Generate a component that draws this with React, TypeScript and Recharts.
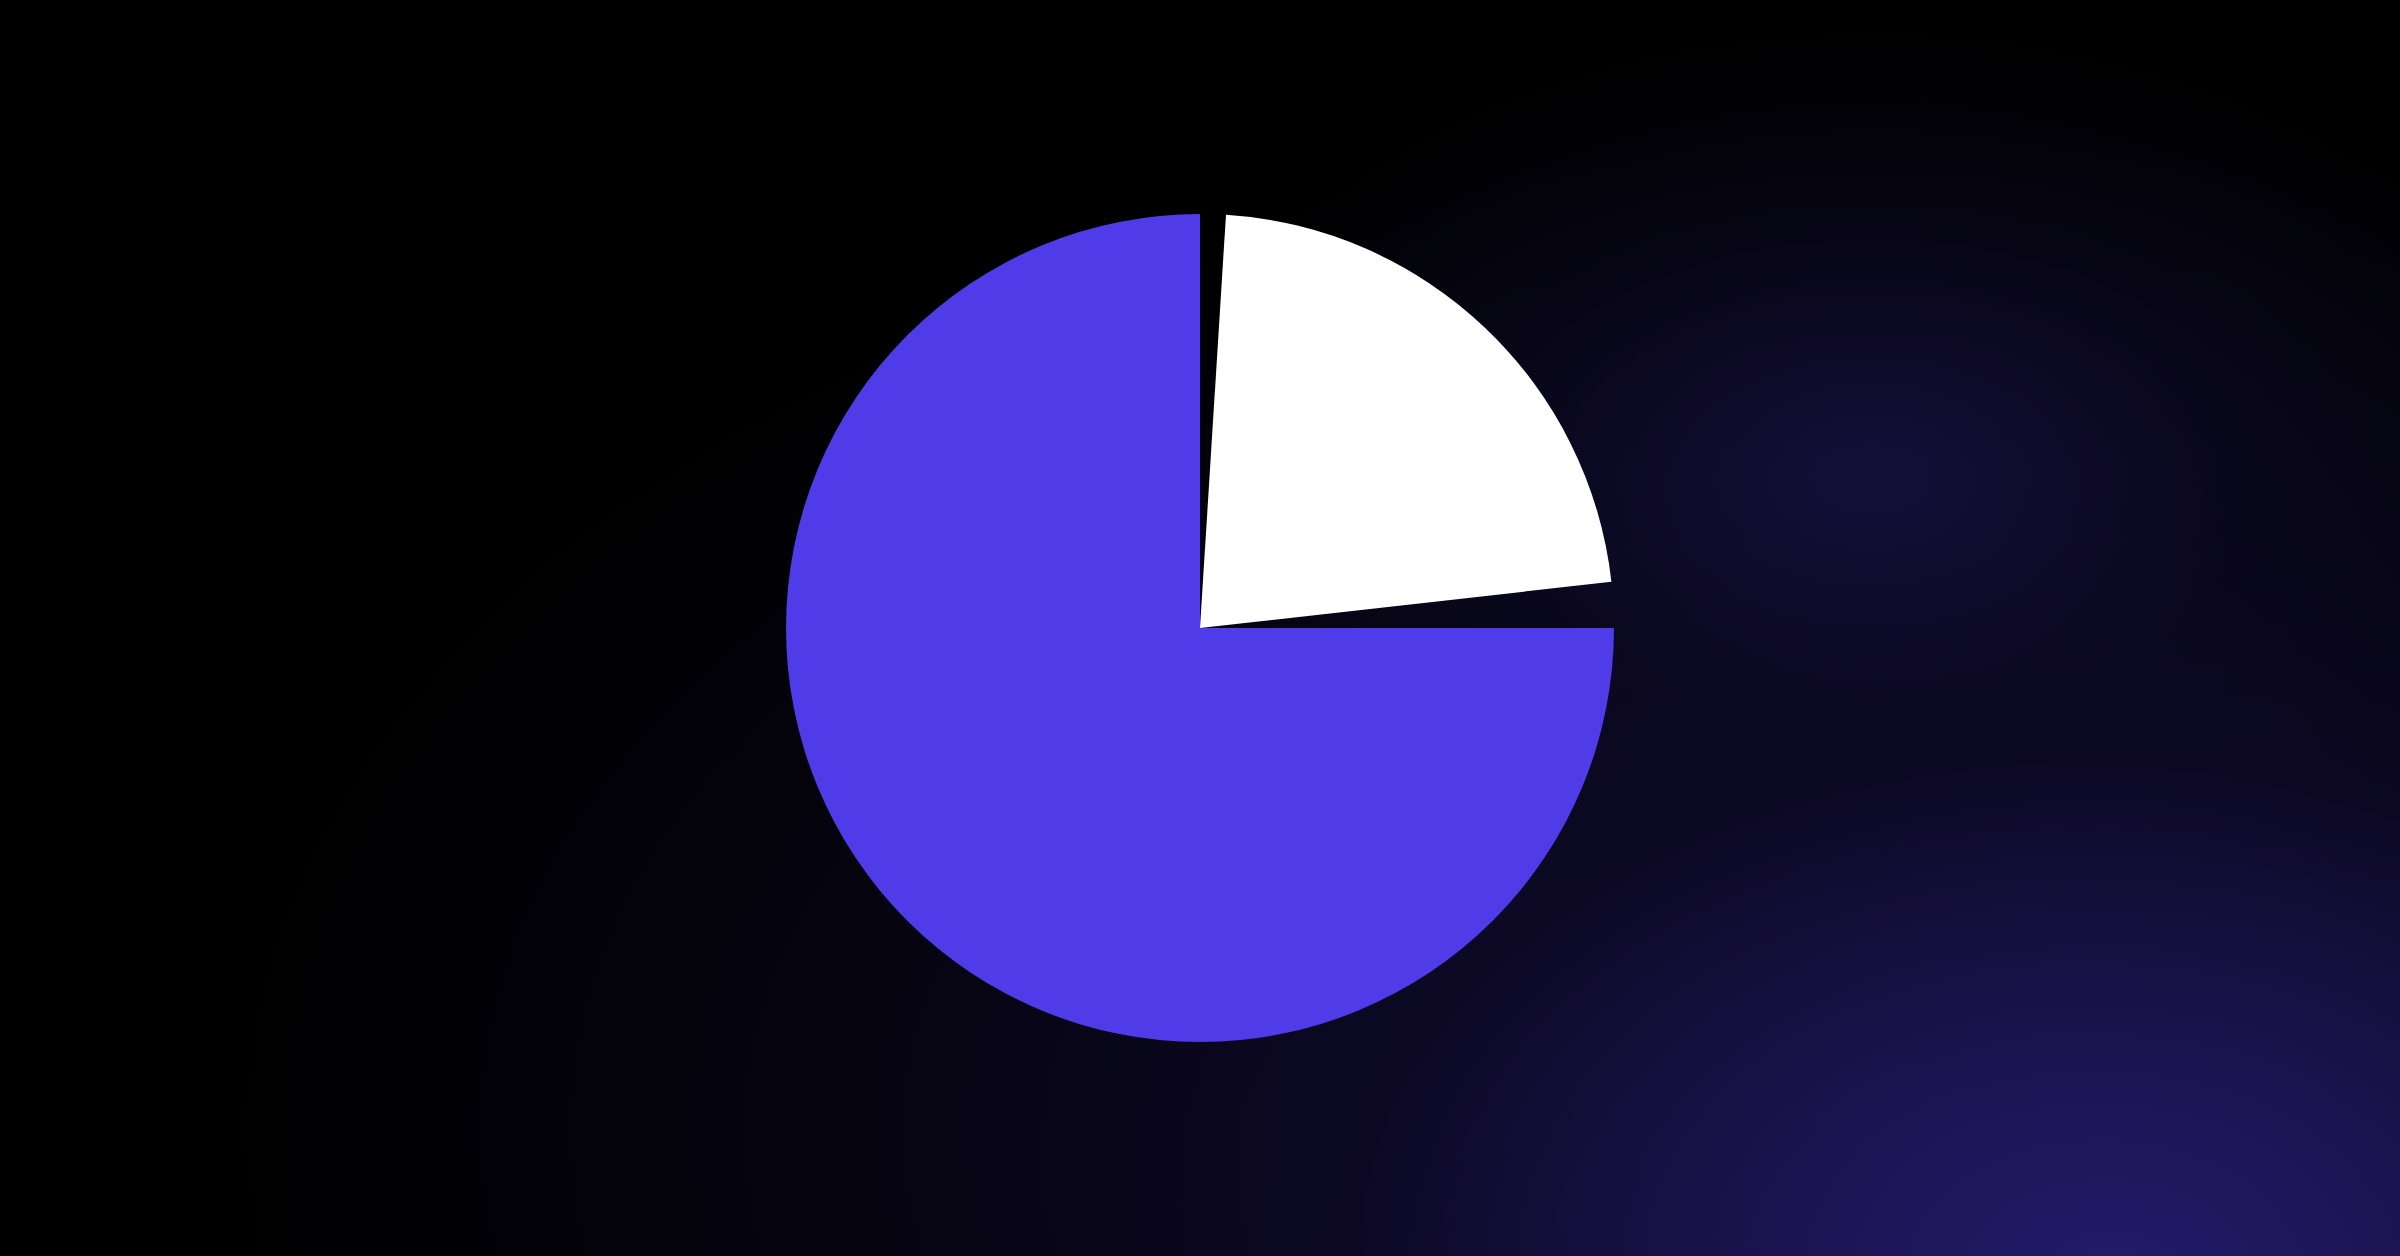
import React from 'react';
import { PieChart, Pie, Cell } from 'recharts';

// Slice names and values (share of the full circle, in %)
const sliceNames = ['Primary', 'gap-a', 'Secondary', 'gap-b'];
const sliceValues = [75, 1.78, 22.22, 1.0];
const sliceColors = ['#4f3ce8', 'transparent', '#ffffff', 'transparent'];

const data = sliceNames.map((name, i) => ({ name, value: sliceValues[i] }));

const App: React.FC = () => {
  return (
    <div
      style={{
        position: 'absolute',
        top: 0,
        left: 0,
        width: 2400,
        height: 1256,
        overflow: 'hidden',
        background:
          'radial-gradient(ellipse 1100px 750px at 88% 102%, rgba(36,27,108,1) 0%, rgba(30,22,88,0.75) 35%, rgba(15,10,45,0.35) 70%, rgba(0,0,0,0) 100%),' +
          'radial-gradient(ellipse 700px 450px at 78% 38%, rgba(22,16,62,0.9) 0%, rgba(12,9,36,0.5) 55%, rgba(0,0,0,0) 100%),' +
          'radial-gradient(ellipse 1700px 1000px at 80% 90%, rgba(16,11,46,1) 0%, rgba(0,0,0,0) 100%),' +
          '#000000',
      }}
    >
      <PieChart width={2400} height={1256} margin={{ top: 0, right: 0, bottom: 0, left: 0 }}>
        <Pie
          data={data}
          dataKey="value"
          nameKey="name"
          cx={1200}
          cy={628}
          outerRadius={414}
          startAngle={90}
          endAngle={450}
          stroke="none"
          isAnimationActive={false}
        >
          {data.map((entry, index) => (
            <Cell key={`cell-${index}`} fill={sliceColors[index]} />
          ))}
        </Pie>
      </PieChart>
    </div>
  );
};

export default App;
